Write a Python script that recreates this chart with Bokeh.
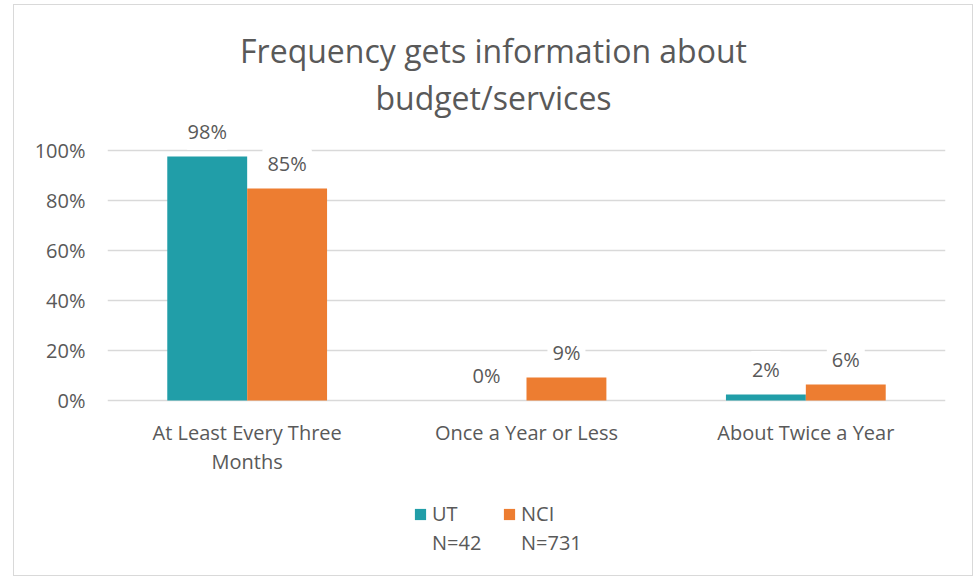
from bokeh.plotting import figure
from bokeh.models import (ColumnDataSource, FactorRange, Range1d, FixedTicker,
                          NumeralTickFormatter, LabelSet, Label, Legend, LegendItem)
from bokeh.transform import dodge
from bokeh.core.properties import value
from bokeh.embed import file_html
from bokeh.resources import INLINE

# ---- data ----
categories = ["At Least Every Three\nMonths", "Once a Year or Less", "About Twice a Year"]
ut_values = [0.976, 0.0, 0.024]
nci_values = [0.848, 0.092, 0.064]
series_names = ["UT", "NCI"]
series_n = ["N=42", "N=731"]
title_lines = ["Frequency gets information about", "budget/services"]
y_ticks = [0, 0.2, 0.4, 0.6, 0.8, 1.0]

UT_COLOR = "#219EA8"
NCI_COLOR = "#ED7D31"
TEXT = "#595959"
GRID = "#D9D9D9"
FONT = "Open Sans"

def pct(v):
    return f"{round(v * 100):.0f}%"

cat_parts = [c.split("\n") for c in categories]
src = ColumnDataSource(dict(
    cat=categories,
    zero=[0] * len(categories),
    line1=[parts[0] for parts in cat_parts],
    line2=[parts[1] if len(parts) > 1 else "" for parts in cat_parts],
    ut=ut_values,
    nci=nci_values,
    ut_lbl=[pct(v) for v in ut_values],
    nci_lbl=[pct(v) for v in nci_values],
))

p = figure(width=960, height=572, x_range=FactorRange(factors=categories, range_padding=0),
           y_range=Range1d(-0.708, 1.52), output_backend="svg", toolbar_location=None,
           min_border_left=93, min_border_right=29, min_border_top=15, min_border_bottom=0)
p.x_range.range_padding = 0
p.outline_line_color = None
p.background_fill_color = "white"
p.border_fill_color = "white"
p.styles = {"margin-left": "13px", "margin-top": "4px", "border": "1px solid #D9D9D9"}

w = 0.286
off = 0.143
r_ut = p.vbar(x=dodge("cat", -off, range=p.x_range), top="ut", width=w, source=src,
              fill_color=UT_COLOR, line_color=None)
r_nci = p.vbar(x=dodge("cat", off, range=p.x_range), top="nci", width=w, source=src,
               fill_color=NCI_COLOR, line_color=None)

for col, lbl, o in (("ut", "ut_lbl", -off), ("nci", "nci_lbl", off)):
    ls = LabelSet(x=dodge("cat", o, range=p.x_range), y=col, text=lbl, source=src,
                  text_align="center", text_baseline="middle", y_offset=25,
                  text_font=value(FONT), text_font_size="20px", text_color=TEXT,
                  background_fill_color="white", border_line_color="white",
                  border_line_width=10)
    p.add_layout(ls)

# category labels (x axis text), each line centred under its group
for col, yoff in (("line1", -32), ("line2", -61)):
    p.add_layout(LabelSet(x="cat", y="zero", text=col, source=src,
                          text_align="center", text_baseline="middle", y_offset=yoff,
                          text_font=value(FONT), text_font_size="20px", text_color=TEXT))

# axes
p.yaxis.ticker = FixedTicker(ticks=y_ticks)
p.yaxis.formatter = NumeralTickFormatter(format="0%")
p.yaxis.axis_line_color = None
p.yaxis.major_tick_line_color = None
p.yaxis.minor_tick_line_color = None
p.yaxis.major_tick_out = 0
p.yaxis.major_label_standoff = 22
p.yaxis.major_label_text_font = FONT
p.yaxis.major_label_text_font_size = "20px"
p.yaxis.major_label_text_color = TEXT
p.xaxis.visible = False

p.xgrid.grid_line_color = None
p.ygrid.grid_line_color = GRID
p.ygrid.grid_line_width = 1.5

# title
title_y = [1.40, 1.212]
for i, t in enumerate(title_lines):
    p.add_layout(Label(x=1.382, y=title_y[i], text=t, text_align="center",
                       text_baseline="middle", text_font=FONT,
                       text_font_size="32px", text_color=TEXT))

# legend: row of series names, row of sample sizes
d1 = p.scatter(x=[], y=[], fill_alpha=0, line_alpha=0)
d2 = p.scatter(x=[], y=[], fill_alpha=0, line_alpha=0)
legend1 = Legend(items=[LegendItem(label=series_names[0], renderers=[r_ut]),
                        LegendItem(label=series_names[1], renderers=[r_nci])],
                 location=(306, 50), orientation="horizontal")
legend2 = Legend(items=[LegendItem(label=series_n[0], renderers=[d1]),
                        LegendItem(label=series_n[1], renderers=[d2])],
                 location=(306, 21), orientation="horizontal")
for lg in (legend1, legend2):
    lg.glyph_width = 14
    lg.glyph_height = 14
    lg.label_standoff = 5
    lg.label_width = 68
    lg.spacing = 2
    lg.padding = 0
    lg.margin = 0
    lg.border_line_color = None
    lg.background_fill_alpha = 0
    lg.label_text_font = FONT
    lg.label_text_font_size = "20px"
    lg.label_text_color = TEXT
    p.add_layout(lg)

open("out.html", "w").write(file_html(p, INLINE))
